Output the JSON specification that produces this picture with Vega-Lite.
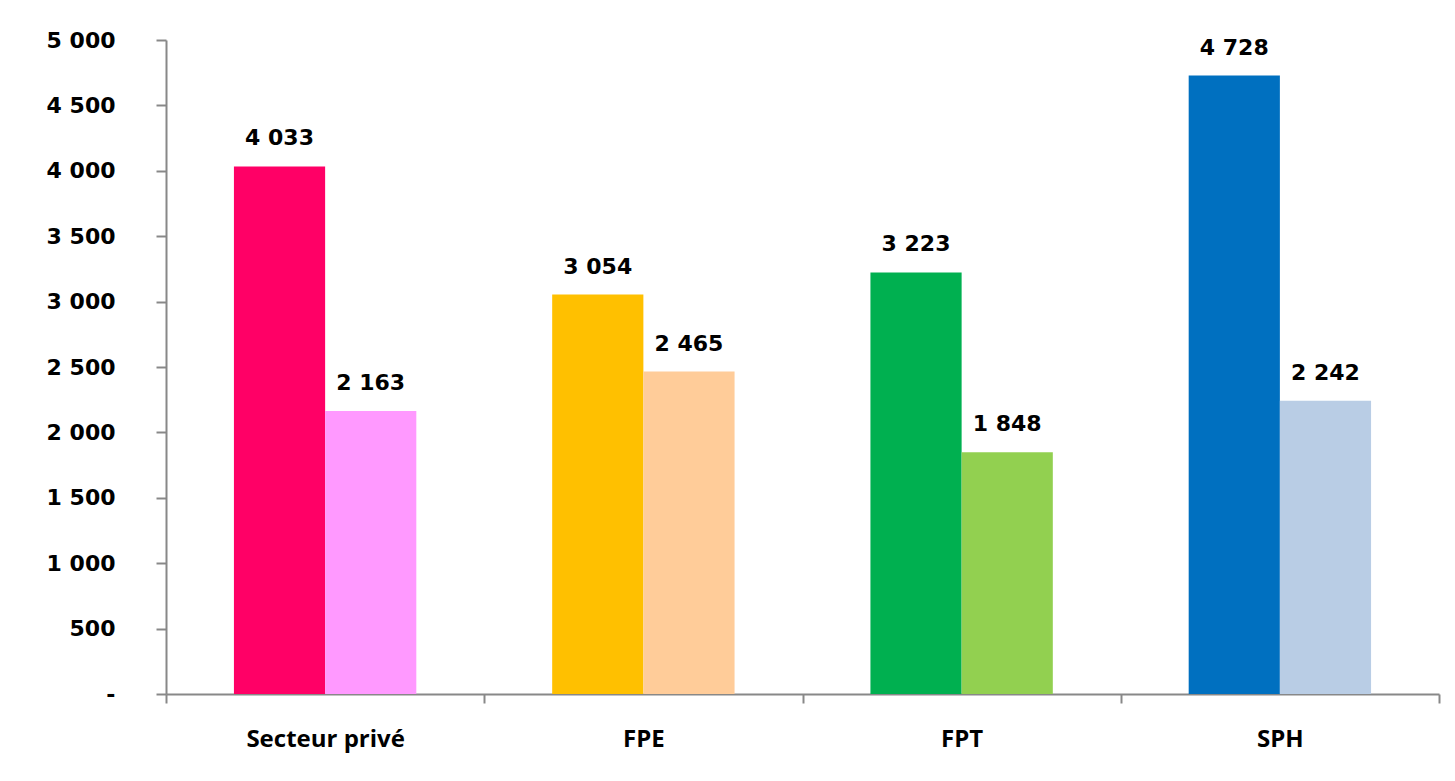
{
  "$schema": "https://vega.github.io/schema/vega-lite/v6.json",
  "autosize": {"type": "none"},
  "width": 1273,
  "height": 654,
  "padding": {"left": 166, "top": 40, "right": 16, "bottom": 87},
  "background": "white",
  "config": {
    "view": {"stroke": null},
    "locale": {"number": {"decimal": ",", "thousands": "\u00a0", "grouping": [3], "currency": ["", " €"]}},
    "axis": {"grid": false, "domainColor": "#888888", "tickColor": "#888888", "domainWidth": 2, "tickWidth": 2, "labelColor": "black", "labelFontWeight": "bold", "title": null}
  },
  "data": {
    "values": [
      {"cat": "Secteur privé", "serie": "A", "key": "SP-A", "value": 4033},
      {"cat": "Secteur privé", "serie": "B", "key": "SP-B", "value": 2163},
      {"cat": "FPE", "serie": "A", "key": "FPE-A", "value": 3054},
      {"cat": "FPE", "serie": "B", "key": "FPE-B", "value": 2465},
      {"cat": "FPT", "serie": "A", "key": "FPT-A", "value": 3223},
      {"cat": "FPT", "serie": "B", "key": "FPT-B", "value": 1848},
      {"cat": "SPH", "serie": "A", "key": "SPH-A", "value": 4728},
      {"cat": "SPH", "serie": "B", "key": "SPH-B", "value": 2242}
    ]
  },
  "encoding": {
    "x": {
      "field": "cat", "type": "nominal", "sort": ["Secteur privé", "FPE", "FPT", "SPH"],
      "scale": {"paddingInner": 0, "paddingOuter": 0},
      "axis": {"labelAngle": 0, "tickBand": "extent", "tickSize": 9, "labelPadding": 36, "labelBaseline": "middle", "labelFont": "Open Sans", "labelFontSize": 24}
    },
    "xOffset": {"field": "serie", "type": "nominal", "scale": {"paddingInner": 0, "paddingOuter": 0.745}},
    "y": {
      "field": "value", "type": "quantitative",
      "scale": {"domain": [0, 5000], "nice": false},
      "axis": {"values": [0, 500, 1000, 1500, 2000, 2500, 3000, 3500, 4000, 4500, 5000], "format": ",d", "labelExpr": "datum.value == 0 ? '-' : datum.label", "tickSize": 10, "labelPadding": 41, "labelFont": "DejaVu Sans", "labelFontSize": 22}
    }
  },
  "layer": [
    {
      "mark": {"type": "bar", "cornerRadius": 0},
      "encoding": {
        "color": {
          "field": "key", "type": "nominal", "legend": null,
          "scale": {
            "domain": ["SP-A", "SP-B", "FPE-A", "FPE-B", "FPT-A", "FPT-B", "SPH-A", "SPH-B"],
            "range": ["#FF0066", "#FF99FF", "#FFC000", "#FFCC99", "#00B050", "#92D050", "#0070C0", "#B9CDE5"]
          }
        }
      }
    },
    {
      "mark": {"type": "text", "baseline": "bottom", "dy": -16, "font": "DejaVu Sans", "fontWeight": "bold", "fontSize": 22, "color": "black"},
      "encoding": {"text": {"field": "value", "type": "quantitative", "format": ",d"}}
    }
  ]
}
